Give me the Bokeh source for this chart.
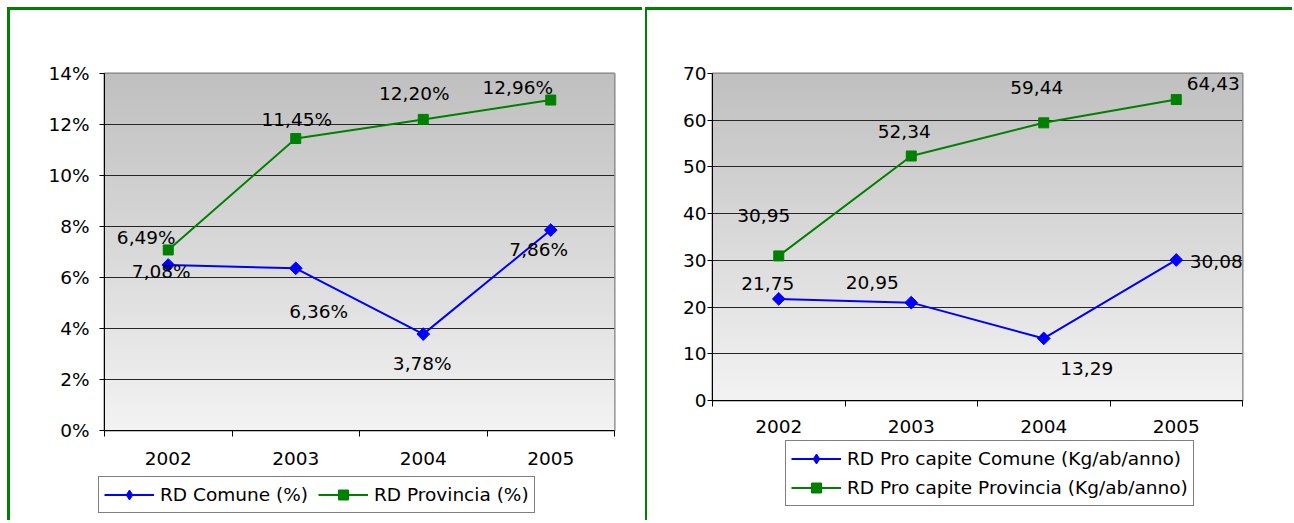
import numpy as np
from bokeh.plotting import figure
from bokeh.models import (ColumnDataSource, FixedTicker, Range1d, Legend,
                          LegendItem, LabelSet)
from bokeh.core.properties import value
from bokeh.embed import file_html
from bokeh.resources import INLINE

# ---------------- data ----------------
years = ["2002", "2003", "2004", "2005"]
rd_comune_pct = [6.49, 6.36, 3.78, 7.86]
rd_provincia_pct = [7.08, 11.45, 12.20, 12.96]
procapite_comune = [21.75, 20.95, 13.29, 30.08]
procapite_provincia = [30.95, 52.34, 59.44, 64.43]
left_yticks = [0, 2, 4, 6, 8, 10, 12, 14]
right_yticks = [0, 10, 20, 30, 40, 50, 60, 70]

left_series_names = ["RD Comune (%)", "RD Provincia (%)"]
right_series_names = ["RD Pro capite Comune (Kg/ab/anno)",
                      "RD Pro capite Provincia (Kg/ab/anno)"]

# label placement offsets (screen px, +down), layout only
left_blue_off = [(-22, -28), (23, 43), (-1, 29), (-12, 19)]
left_green_off = [(-7, 22), (1, -19), (-9, -26), (-33, -13)]
right_blue_off = [(-11, -15), (-39, -20), (43, 30), (40, 2)]
right_green_off = [(-15, -40), (-7, -24), (-7, -35), (37, -16)]

FONT = "DejaVu Sans"
FSIZE = "18.5px"
BLUE = "#0000ff"
GREEN = "#008000"
GRID = "#262626"


def fmt(v, pct):
    s = f"{v:.2f}".replace(".", ",")
    return s + ("%" if pct else "")


def gradient():
    n = 256
    img = np.empty((n, 1), dtype=np.uint32)
    view = img.view(dtype=np.uint8).reshape((n, 1, 4))
    t = np.linspace(0, 1, n)  # row 0 at bottom
    c = (243 - (243 - 192) * t).astype(np.uint8)
    view[:, 0, 0] = c
    view[:, 0, 1] = c
    view[:, 0, 2] = c
    view[:, 0, 3] = 255
    return img


def add_series(p, xs, ys, color, marker, size, angle):
    ln = p.line(xs, ys, line_color=color, line_width=2)
    mk = p.scatter(xs, ys, marker=marker, size=size, angle=angle,
                   fill_color=color, line_color=color)
    return ln, mk


def make_chart(width, height, mb_left, mb_right, mb_top, mb_bottom,
               yticks, ytick_labels, comune, provincia, pct,
               blue_off, green_off, ylabel_standoff, xlabel_standoff, styles):
    ymax = yticks[-1]
    n = len(years)
    p = figure(width=width, height=height, output_backend="svg",
               toolbar_location=None, x_range=Range1d(0, n),
               y_range=Range1d(0, ymax), min_border_left=mb_left,
               min_border_right=mb_right, min_border_top=mb_top,
               min_border_bottom=mb_bottom)
    p.styles = styles
    p.background_fill_color = "white"
    p.border_fill_color = "white"
    p.outline_line_color = "#808080"
    p.outline_line_width = 2

    p.image_rgba(image=[gradient()], x=0, y=0, dw=n, dh=ymax, level="image")

    p.xgrid.visible = False
    p.ygrid.ticker = FixedTicker(ticks=yticks[1:-1])
    p.ygrid.grid_line_color = GRID
    p.ygrid.grid_line_width = 1

    p.yaxis.ticker = FixedTicker(ticks=yticks)
    p.yaxis.major_label_overrides = {t: l for t, l in zip(yticks, ytick_labels)}
    p.yaxis.major_tick_out = 5
    p.yaxis.major_tick_in = 0
    p.yaxis.minor_tick_line_color = None
    p.yaxis.major_label_standoff = ylabel_standoff
    p.yaxis.axis_line_color = "black"
    p.yaxis.major_tick_line_color = "black"

    centers = [i + 0.5 for i in range(n)]
    p.xaxis.ticker = FixedTicker(ticks=centers, minor_ticks=list(range(n + 1)))
    p.xaxis.major_label_overrides = {c: y for c, y in zip(centers, years)}
    p.xaxis.major_tick_out = 0
    p.xaxis.major_tick_in = 0
    p.xaxis.minor_tick_out = 6
    p.xaxis.minor_tick_in = 0
    p.xaxis.minor_tick_line_color = "black"
    p.xaxis.major_label_standoff = xlabel_standoff
    p.xaxis.axis_line_color = "black"

    for ax in (p.xaxis, p.yaxis):
        ax.major_label_text_font = FONT
        ax.major_label_text_font_size = FSIZE
        ax.major_label_text_color = "black"

    add_series(p, centers, provincia, GREEN, "square", 10, 0)
    add_series(p, centers, comune, BLUE, "square", 9, np.pi / 4)

    for vals, off in ((comune, blue_off), (provincia, green_off)):
        src = ColumnDataSource(dict(x=centers, y=vals,
                                    t=[fmt(v, pct) for v in vals],
                                    dx=[o[0] for o in off],
                                    dy=[-o[1] for o in off]))
        p.add_layout(LabelSet(x="x", y="y", text="t", source=src,
                              x_offset="dx", y_offset="dy",
                              text_align="center", text_baseline="middle",
                              text_font=value(FONT),
                              text_font_size=value(FSIZE),
                              text_color="black"))
    return p


def make_legend(names, orient, width, height, styles):
    q = figure(width=width, height=height, output_backend="svg",
               toolbar_location=None, x_range=Range1d(0, 1),
               y_range=Range1d(0, 1), x_axis_location=None,
               y_axis_location=None, min_border=0)
    q.styles = styles
    q.outline_line_color = None
    q.grid.visible = False
    q.background_fill_color = "white"
    q.border_fill_color = "white"
    # legend-only renderers, kept outside the visible range
    off = [-10, -9]
    lc, mc = add_series(q, off, off, BLUE, "diamond", 15, 0)
    lp, mp = add_series(q, off, off, GREEN, "square", 10, 0)
    legend = Legend(items=[LegendItem(label=names[0], renderers=[lc, mc]),
                           LegendItem(label=names[1], renderers=[lp, mp])],
                    location="top_left", orientation=orient)
    legend.label_text_font = FONT
    legend.label_text_font_size = FSIZE
    legend.label_text_color = "black"
    legend.glyph_width = 50
    legend.glyph_height = 25
    legend.label_standoff = 6
    legend.label_height = 20
    legend.spacing = 4 if orient == "vertical" else 10
    legend.padding = 5
    legend.margin = 1
    legend.border_line_color = "black"
    legend.border_line_width = 1
    legend.background_fill_color = "white"
    legend.background_fill_alpha = 1
    q.add_layout(legend, "center")
    return q


def pos(left, top, border_left=0, border_top=0):
    s = {"position": "absolute", "left": f"{left}px", "top": f"{top}px"}
    if border_top:
        s["border-top"] = f"{border_top}px solid #008000"
    if border_left:
        s["border-left"] = f"{border_left}px solid #008000"
    return s


left = make_chart(635, 513, 94, 31, 63, 93, left_yticks,
                  [f"{t}%" for t in left_yticks], rd_comune_pct,
                  rd_provincia_pct, True, left_blue_off, left_green_off,
                  10, 15, pos(7, 7, 3, 3))
right = make_chart(647, 513, 65, 52, 63, 123, right_yticks,
                   [str(t) for t in right_yticks], procapite_comune,
                   procapite_provincia, False, right_blue_off,
                   right_green_off, 1, 13, pos(645, 7, 2, 3))
left_legend = make_legend(left_series_names, "horizontal", 460, 40,
                          pos(97, 475))
right_legend = make_legend(right_series_names, "vertical", 440, 68,
                           pos(784, 439))

open("out.html", "w").write(
    file_html([left, right, left_legend, right_legend], INLINE))
